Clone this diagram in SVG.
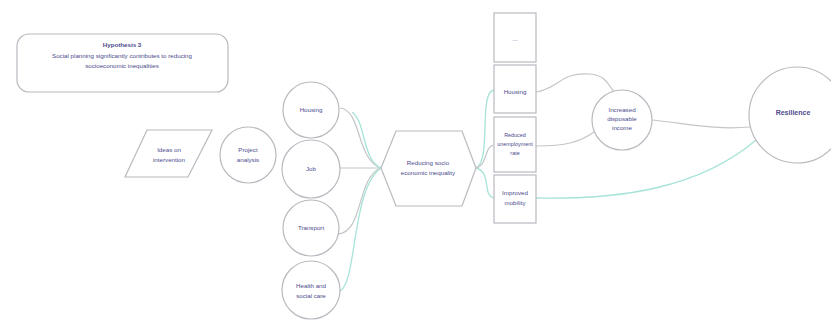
<svg xmlns="http://www.w3.org/2000/svg" width="831" height="323" viewBox="0 0 831 323">
  <style>
    .shape { fill: #ffffff; stroke: #b9b9c0; stroke-width: 1.2; }
    .t { font-family: "Liberation Sans", Arial, sans-serif; font-size: 6.2px; fill: #4b4a8c; text-anchor: middle; }
    .s { font-size: 5.4px; }
    .b { font-weight: bold; }
    .gray { fill: none; stroke: #c3c6c6; stroke-width: 1.2; }
    .teal { fill: none; stroke: #a6e3d8; stroke-width: 1.3; }
  </style>
  <rect width="831" height="323" fill="#ffffff"/>

  <g id="connectors">
    <!-- causes converging on the hexagon -->
    <path class="gray" d="M340,108 C362,110 356,160 381,168"/>
    <path class="gray" d="M340,168 L381,168"/>
    <path class="gray" d="M338,234 C364,232 356,178 381,168"/>
    <path class="teal" d="M338,292 C358,288 350,190 381,168"/>
    <path class="teal" d="M381,168 C362,160 366,122 352,112"/>
    <!-- hexagon to outcome stack -->
    <path class="teal" d="M476,168 C492,160 478,92 494,90"/>
    <path class="teal" d="M476,168 C492,172 482,196 494,198"/>
    <path class="gray" d="M476,168 C488,165 484,146 494,145"/>
    <!-- outcomes to the right-hand nodes -->
    <path class="gray" d="M536,92 C560,88 560,72 590,74 C605,75 608,84 614,92"/>
    <path class="gray" d="M536,146 C566,146 580,142 594,132"/>
    <path class="gray" d="M652,120 C690,124 715,130 750,127"/>
    <path class="teal" d="M536,198 C620,200 700,188 756,140"/>
  </g>

  <g id="hypothesis">
    <rect class="shape" x="17" y="34" width="211" height="58" rx="12"/>
    <text class="t b" x="122" y="47">Hypothesis 3</text>
    <text class="t" x="122" y="58">Social planning significantly contributes to reducing</text>
    <text class="t" x="122" y="68">socioeconomic inequalities</text>
  </g>

  <g id="ideas">
    <polygon class="shape" points="147,130 212,130 188,177 125,177"/>
    <text class="t" x="169" y="152">Ideas on</text>
    <text class="t" x="169" y="162">intervention</text>
  </g>

  <g id="project">
    <circle class="shape" cx="248" cy="155" r="28"/>
    <text class="t" x="248" y="152">Project</text>
    <text class="t" x="248" y="162">analysis</text>
  </g>

  <g id="housing">
    <circle class="shape" cx="311" cy="110" r="28"/>
    <text class="t" x="311" y="112">Housing</text>
  </g>
  <g id="job">
    <circle class="shape" cx="311" cy="169" r="29"/>
    <text class="t" x="311" y="171">Job</text>
  </g>
  <g id="transport">
    <circle class="shape" cx="311" cy="228" r="28"/>
    <text class="t" x="311" y="230">Transport</text>
  </g>
  <g id="health">
    <circle class="shape" cx="311" cy="290" r="29"/>
    <text class="t" x="311" y="288">Health and</text>
    <text class="t" x="311" y="298">social care</text>
  </g>

  <g id="reducing">
    <polygon class="shape" points="381,168 396,131 462,131 476,168 462,206 396,206"/>
    <text class="t" x="428" y="165">Reducing socio</text>
    <text class="t" x="428" y="175">economic inequality</text>
  </g>

  <g id="outcomes">
    <rect class="shape" x="494" y="13" width="42" height="49"/>
    <text class="t" x="515" y="41">...</text>
    <rect class="shape" x="494" y="65" width="42" height="48"/>
    <text class="t" x="515" y="94">Housing</text>
    <rect class="shape" x="494" y="117" width="42" height="55"/>
    <text class="t s" x="515" y="137">Reduced</text>
    <text class="t s" x="515" y="146">unemployment</text>
    <text class="t s" x="515" y="155">rate</text>
    <rect class="shape" x="494" y="175" width="42" height="48"/>
    <text class="t" x="515" y="195">Improved</text>
    <text class="t" x="515" y="205">mobility</text>
  </g>

  <g id="income">
    <circle class="shape" cx="622" cy="120" r="30"/>
    <text class="t" x="622" y="112">Increased</text>
    <text class="t" x="622" y="121">disposable</text>
    <text class="t" x="622" y="130">income</text>
  </g>

  <g id="resilience">
    <circle class="shape" cx="797" cy="115" r="48"/>
    <text class="t b" x="793" y="115" style="font-size:7px">Resilience</text>
  </g>
</svg>
